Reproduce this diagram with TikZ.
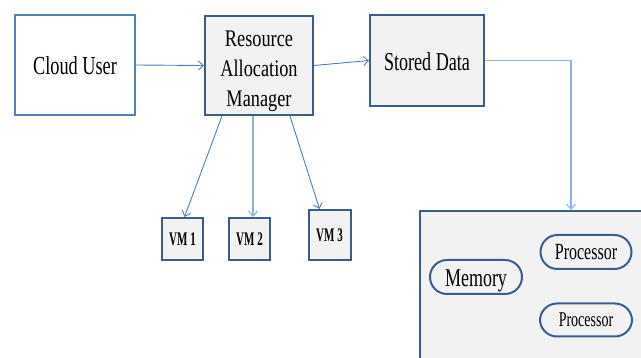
\documentclass[tikz,border=0pt]{standalone}
\usepackage{fontspec}
\setmainfont{Liberation Serif}
\usetikzlibrary{arrows.meta,calc}
\definecolor{bdark}{HTML}{3A5E8C}
\definecolor{blight}{HTML}{4F81BD}
\definecolor{arr}{HTML}{4A7EBB}
\definecolor{arrl}{HTML}{8DB3E2}
\definecolor{fillg}{HTML}{F2F2F2}
\tikzset{
  box/.style={draw=bdark, line width=2pt, fill=fillg, inner sep=0pt},
  ubox/.style={draw=blight, line width=2pt, fill=white, inner sep=0pt},
  pill/.style={draw=bdark, line width=2pt, fill=fillg, rounded corners=17pt, inner sep=0pt},
  conn/.style={draw=arr, line width=0.9pt, -{Straight Barb[length=5pt,width=9pt]}},
  connl/.style={draw=arrl, line width=1.1pt, -{Straight Barb[length=5pt,width=9pt]}},
}
\newcommand{\ys}[2]{\scalebox{1}[#1]{#2}}
\newcommand{\lowered}[2]{\raisebox{-#1}[0pt][0pt]{#2}}
\begin{document}
\begin{tikzpicture}[x=1pt,y=-1pt]
\useasboundingbox (0,0) rectangle (641,358);
\node[ubox, minimum width=120pt, minimum height=100pt, font=\fontsize{18.3}{22}\selectfont] (cu) at (75,65) {\lowered{10pt}{\ys{1.42}{Cloud User}}};
\node[box, minimum width=108pt, minimum height=99pt, font=\fontsize{18.3}{23}\selectfont] (ram) at (259,65.5)
  {\lowered{10.5pt}{\ys{1.3}{\begin{tabular}{@{}c@{}}Resource\\Allocation\\Manager\end{tabular}}}};
\node[box, minimum width=114pt, minimum height=91pt, font=\fontsize{18.1}{22}\selectfont] (sd) at (427,60.5) {\lowered{10.5pt}{\ys{1.42}{Stored Data}}};
\node[box, minimum width=41pt, minimum height=42pt, font=\bfseries\fontsize{11}{13}\selectfont] (vm1) at (182.5,239) {\ys{1.75}{VM 1}};
\node[box, minimum width=41pt, minimum height=42pt, font=\bfseries\fontsize{11}{13}\selectfont] (vm2) at (249.5,239) {\ys{1.75}{VM 2}};
\node[box, minimum width=42pt, minimum height=50pt, font=\bfseries\fontsize{11}{13}\selectfont] (vm3) at (329.5,235) {\ys{1.75}{VM 3}};
\node[box, minimum width=230pt, minimum height=160pt, anchor=north west] (hw) at (419,210) {};
\node[pill, minimum width=92pt, minimum height=34pt, font=\fontsize{18}{20}\selectfont] (mem) at (476,277) {\lowered{10pt}{\ys{1.42}{Memory}}};
\node[pill, minimum width=91pt, minimum height=34pt, font=\fontsize{16}{18}\selectfont] (p1) at (586,252) {\lowered{8pt}{\ys{1.45}{Processor}}};
\node[pill, minimum width=92pt, minimum height=33pt, font=\fontsize{14}{16}\selectfont] (p2) at (586,320) {\lowered{7pt}{\ys{1.5}{Processor}}};
\draw[conn] (cu.east) -- (ram.west);
\draw[conn] (ram.east) -- (sd.west);
\draw[connl] (sd.east) -| ([xshift=152pt]hw.north west);
\draw[conn] ([xshift=-37pt]ram.south) -- ([xshift=2pt]vm1.north);
\draw[connl] ([xshift=-6pt]ram.south) -- ([xshift=3.5pt]vm2.north);
\draw[conn] ([xshift=31pt]ram.south) -- ([xshift=-10pt]vm3.north);
\end{tikzpicture}
\end{document}
